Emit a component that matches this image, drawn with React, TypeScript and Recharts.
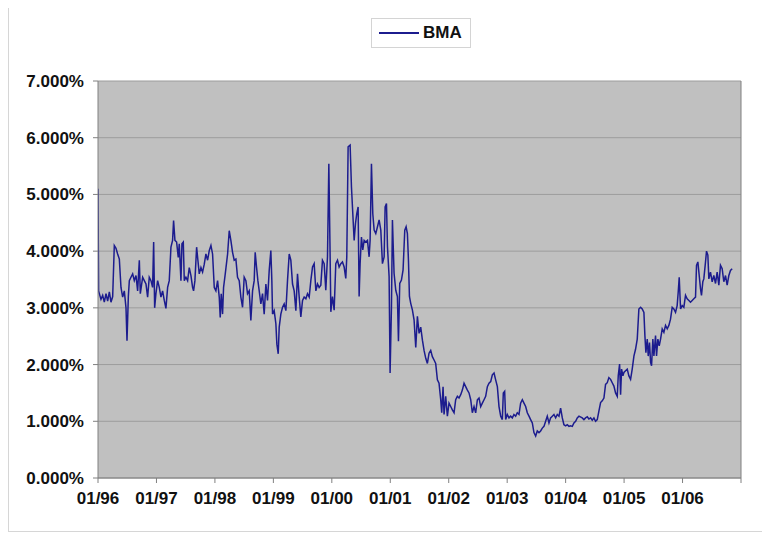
import { LineChart, Line, XAxis, YAxis, CartesianGrid, Legend, ReferenceLine } from 'recharts';

// BMA index readings: [decimal year, rate %]
const bma1996to1997: [number, number][] = [
  [1996.0, 5.1], [1996.01, 3.3], [1996.023, 3.25], [1996.051, 3.15], [1996.08, 3.22], [1996.108, 3.1],
  [1996.137, 3.25], [1996.165, 3.12], [1996.194, 3.28], [1996.222, 3.1], [1996.251, 3.2], [1996.279, 4.1],
  [1996.308, 4.05], [1996.336, 3.95], [1996.365, 3.86], [1996.393, 3.36], [1996.422, 3.19], [1996.45, 3.3],
  [1996.479, 3.0], [1996.496, 2.42], [1996.519, 3.2], [1996.536, 3.48], [1996.564, 3.54], [1996.593, 3.6],
  [1996.621, 3.48], [1996.65, 3.57], [1996.678, 3.3], [1996.707, 3.84], [1996.724, 3.25], [1996.764, 3.54],
  [1996.792, 3.48], [1996.821, 3.42], [1996.849, 3.19], [1996.877, 3.54], [1996.906, 3.48], [1996.934, 3.36],
  [1996.952, 4.16], [1996.969, 3.0], [1996.991, 3.25], [1997.02, 3.48], [1997.048, 3.36], [1997.077, 3.19],
  [1997.105, 3.3], [1997.134, 3.13], [1997.162, 2.99], [1997.191, 3.36], [1997.219, 3.48], [1997.248, 4.07],
  [1997.276, 4.19], [1997.293, 4.54], [1997.316, 4.19], [1997.345, 4.16], [1997.373, 3.89], [1997.39, 4.13],
  [1997.419, 3.48], [1997.436, 4.13], [1997.459, 4.16], [1997.476, 3.48], [1997.504, 3.54], [1997.533, 3.48],
  [1997.561, 3.71], [1997.59, 3.57], [1997.618, 3.36], [1997.635, 3.3], [1997.658, 3.48], [1997.687, 4.07],
  [1997.709, 3.84], [1997.732, 3.6], [1997.761, 3.71], [1997.789, 3.63], [1997.818, 3.77], [1997.846, 3.95],
  [1997.875, 3.84], [1997.903, 4.01], [1997.932, 4.1], [1997.96, 3.95], [1997.989, 3.36],
];

const bma1998to1999: [number, number][] = [
  [1998.017, 3.3], [1998.046, 3.48], [1998.074, 3.19], [1998.091, 2.83], [1998.108, 3.25], [1998.131, 2.89],
  [1998.148, 3.36], [1998.177, 3.6], [1998.217, 3.95], [1998.245, 4.36], [1998.273, 4.19], [1998.302, 3.98],
  [1998.33, 3.84], [1998.359, 3.86], [1998.387, 3.54], [1998.416, 3.48], [1998.444, 3.19], [1998.473, 3.01],
  [1998.501, 3.54], [1998.53, 3.48], [1998.558, 3.25], [1998.587, 3.3], [1998.615, 2.78], [1998.644, 3.3],
  [1998.672, 3.48], [1998.689, 3.98], [1998.712, 3.72], [1998.735, 3.48], [1998.758, 3.3], [1998.786, 3.07],
  [1998.815, 3.25], [1998.843, 2.89], [1998.872, 3.42], [1998.9, 3.13], [1998.929, 3.66], [1998.957, 4.01],
  [1998.974, 3.48], [1998.986, 2.89], [1999.014, 2.95], [1999.043, 2.72], [1999.06, 2.36], [1999.083, 2.19],
  [1999.1, 2.66], [1999.128, 2.89], [1999.157, 3.01], [1999.185, 3.07], [1999.214, 2.95], [1999.242, 3.48],
  [1999.271, 3.95], [1999.299, 3.84], [1999.328, 3.42], [1999.356, 3.3], [1999.385, 2.95], [1999.413, 3.6],
  [1999.442, 3.19], [1999.47, 2.84], [1999.499, 3.13], [1999.527, 3.19], [1999.556, 3.16], [1999.584, 3.25],
  [1999.613, 3.19], [1999.641, 3.48], [1999.67, 3.72], [1999.698, 3.78], [1999.727, 3.3], [1999.755, 3.42],
  [1999.783, 3.36], [1999.812, 3.4], [1999.84, 3.84], [1999.869, 3.78], [1999.897, 3.31], [1999.926, 3.9],
  [1999.949, 5.54], [1999.972, 3.84], [1999.983, 2.93],
];

const bma2000to2001: [number, number][] = [
  [2000.011, 3.2], [2000.04, 2.96], [2000.068, 3.78], [2000.097, 3.84], [2000.125, 3.72], [2000.154, 3.78],
  [2000.182, 3.81], [2000.211, 3.72], [2000.239, 3.52], [2000.256, 3.9], [2000.279, 5.84], [2000.313, 5.87],
  [2000.336, 5.13], [2000.359, 4.66], [2000.382, 4.19], [2000.405, 4.49], [2000.427, 4.66], [2000.45, 4.78],
  [2000.467, 3.2], [2000.484, 3.78], [2000.507, 4.25], [2000.53, 4.02], [2000.553, 4.19], [2000.581, 4.16],
  [2000.61, 4.19], [2000.638, 3.9], [2000.655, 4.19], [2000.678, 5.54], [2000.701, 4.66], [2000.724, 4.37],
  [2000.752, 4.31], [2000.781, 4.43], [2000.809, 4.55], [2000.838, 4.37], [2000.866, 3.78], [2000.895, 3.9],
  [2000.912, 4.78], [2000.935, 4.84], [2000.952, 4.08], [2000.98, 3.55], [2000.997, 1.85], [2001.02, 3.0],
  [2001.037, 4.55], [2001.065, 3.61], [2001.094, 3.31], [2001.122, 3.2], [2001.14, 2.41], [2001.162, 3.43],
  [2001.191, 3.49], [2001.219, 3.67], [2001.248, 4.37], [2001.271, 4.43], [2001.293, 4.31], [2001.311, 3.84],
  [2001.328, 3.2], [2001.35, 3.08], [2001.379, 2.96], [2001.407, 2.79], [2001.436, 2.3], [2001.464, 2.85],
  [2001.493, 2.55], [2001.521, 2.66], [2001.55, 2.43], [2001.578, 2.25], [2001.607, 2.11], [2001.635, 2.02],
  [2001.663, 2.2], [2001.692, 2.25], [2001.72, 2.14], [2001.749, 2.08], [2001.777, 2.02], [2001.806, 1.73],
  [2001.834, 1.67], [2001.863, 1.38], [2001.88, 1.15], [2001.903, 1.61], [2001.92, 1.12], [2001.948, 1.44],
  [2001.977, 1.09],
];

const bma2002to2003: [number, number][] = [
  [2002.005, 1.32], [2002.034, 1.26], [2002.062, 1.2], [2002.091, 1.15], [2002.119, 1.38], [2002.148, 1.44],
  [2002.176, 1.41], [2002.205, 1.47], [2002.233, 1.55], [2002.262, 1.67], [2002.29, 1.61], [2002.319, 1.55],
  [2002.347, 1.5], [2002.376, 1.38], [2002.404, 1.15], [2002.433, 1.26], [2002.461, 1.15], [2002.49, 1.38],
  [2002.518, 1.41], [2002.547, 1.26], [2002.575, 1.32], [2002.604, 1.38], [2002.632, 1.44], [2002.661, 1.61],
  [2002.689, 1.67], [2002.718, 1.7], [2002.746, 1.82], [2002.775, 1.85], [2002.803, 1.73], [2002.832, 1.61],
  [2002.86, 1.26], [2002.889, 1.09], [2002.917, 1.03], [2002.934, 1.5], [2002.957, 1.53], [2002.974, 1.03],
  [2003.002, 1.12], [2003.031, 1.06], [2003.059, 1.09], [2003.088, 1.06], [2003.116, 1.12], [2003.145, 1.09],
  [2003.173, 1.15], [2003.202, 1.12], [2003.23, 1.32], [2003.259, 1.38], [2003.287, 1.32], [2003.316, 1.26],
  [2003.344, 1.15], [2003.373, 1.09], [2003.401, 1.03], [2003.43, 0.97], [2003.458, 0.8], [2003.487, 0.74],
  [2003.515, 0.83], [2003.544, 0.8], [2003.572, 0.83], [2003.601, 0.88], [2003.629, 0.91], [2003.658, 1.0],
  [2003.686, 1.09], [2003.715, 0.97], [2003.743, 1.06], [2003.772, 1.09], [2003.8, 1.12], [2003.829, 1.06],
  [2003.857, 1.12], [2003.886, 1.09], [2003.914, 1.23], [2003.943, 1.06], [2003.971, 0.94],
];

const bma2004to2006: [number, number][] = [
  [2004.0, 0.92], [2004.028, 0.94], [2004.057, 0.91], [2004.085, 0.92], [2004.114, 0.91], [2004.142, 0.97],
  [2004.171, 1.0], [2004.199, 1.06], [2004.228, 1.09], [2004.284, 1.06], [2004.313, 1.03], [2004.341, 1.06],
  [2004.37, 1.08], [2004.398, 1.04], [2004.427, 1.06], [2004.455, 1.02], [2004.484, 1.06], [2004.512, 1.0],
  [2004.541, 1.03], [2004.569, 1.18], [2004.598, 1.33], [2004.626, 1.36], [2004.655, 1.41], [2004.683, 1.65],
  [2004.712, 1.68], [2004.74, 1.77], [2004.769, 1.74], [2004.797, 1.68], [2004.826, 1.62], [2004.854, 1.5],
  [2004.883, 1.44], [2004.9, 1.8], [2004.923, 2.01], [2004.94, 1.47], [2004.957, 1.92], [2004.98, 1.8],
  [2004.997, 1.86], [2005.025, 1.89], [2005.054, 1.92], [2005.082, 1.8], [2005.111, 1.74], [2005.139, 1.92],
  [2005.168, 2.15], [2005.196, 2.27], [2005.225, 2.45], [2005.253, 2.98], [2005.282, 3.01], [2005.31, 2.98],
  [2005.339, 2.92], [2005.356, 2.51], [2005.373, 2.21], [2005.396, 2.45], [2005.413, 2.15], [2005.435, 2.39],
  [2005.453, 2.04], [2005.47, 1.98], [2005.492, 2.45], [2005.51, 2.15], [2005.538, 2.51], [2005.555, 2.15],
  [2005.578, 2.45], [2005.601, 2.33], [2005.624, 2.45], [2005.652, 2.63], [2005.681, 2.57], [2005.709, 2.69],
  [2005.738, 2.63], [2005.766, 2.69], [2005.794, 2.8], [2005.823, 3.01], [2005.851, 2.98], [2005.88, 2.92],
  [2005.908, 3.04], [2005.926, 3.28], [2005.943, 3.54], [2005.966, 2.98], [2005.994, 3.04], [2006.022, 3.01],
  [2006.051, 3.22], [2006.079, 3.16], [2006.108, 3.13], [2006.136, 3.1], [2006.165, 3.13], [2006.193, 3.16],
  [2006.222, 3.19], [2006.239, 3.75], [2006.262, 3.81], [2006.285, 3.57], [2006.307, 3.34], [2006.324, 3.22],
  [2006.347, 3.46], [2006.364, 3.51], [2006.393, 3.81], [2006.41, 4.0], [2006.433, 3.93], [2006.45, 3.51],
  [2006.478, 3.63], [2006.507, 3.46], [2006.535, 3.57], [2006.564, 3.43], [2006.592, 3.63], [2006.621, 3.4],
  [2006.649, 3.75], [2006.678, 3.69], [2006.706, 3.46], [2006.735, 3.57], [2006.763, 3.4], [2006.792, 3.57],
  [2006.82, 3.66], [2006.849, 3.69],
];

const yearTicks = [1996, 1997, 1998, 1999, 2000, 2001, 2002, 2003, 2004, 2005, 2006, 2007];
const rateTicks = [0, 1, 2, 3, 4, 5, 6, 7];

const chartData = [...bma1996to1997, ...bma1998to1999, ...bma2000to2001, ...bma2002to2003, ...bma2004to2006]
  .map(([t, v]) => ({ t, bma: v }));

const LINE_COLOR = '#1c1c8e';
const FONT = '"Liberation Sans", Arial, sans-serif';
const TICK_STYLE = { fill: '#111', fontFamily: FONT, fontWeight: 'bold', fontSize: 17 };

const formatYear = (t: number) => (t === 2007 ? '' : '01/' + String(t).slice(2));

function LegendBox() {
  return (
    <div
      style={{
        display: 'flex',
        alignItems: 'center',
        height: 30,
        width: 100,
        border: '1px solid #d4d4d4',
        boxSizing: 'border-box',
        fontFamily: FONT,
        fontWeight: 'bold',
        fontSize: 17,
        color: '#111'
      }}
    >
      <svg width={44} height={10} style={{ marginLeft: 7 }}>
        <line x1={0} y1={5} x2={40} y2={5} stroke={LINE_COLOR} strokeWidth={2} />
      </svg>
      <span>BMA</span>
    </div>
  );
}

export default function App() {
  return (
    <div style={{ width: 762, height: 523, borderLeft: '1px solid #d6d6d6', borderBottom: '1px solid #d6d6d6', background: '#fff' }}>
      <LineChart
        width={753}
        height={522}
        data={chartData}
        margin={{ top: 43, right: 21, left: 8, bottom: 22 }}
      >
        <CartesianGrid vertical={false} fill="#c0c0c0" stroke="#9c9c9c" strokeWidth={1} />
        <XAxis
          dataKey="t"
          type="number"
          domain={[1996, 2007]}
          ticks={yearTicks}
          tickFormatter={formatYear}
          interval={0}
          height={30}
          tickSize={5}
          tickMargin={9}
          stroke="#808080"
          tick={TICK_STYLE}
          allowDataOverflow
        />
        <YAxis
          domain={[0, 7]}
          ticks={rateTicks}
          tickFormatter={(v: number) => v.toFixed(3) + '%'}
          width={81}
          tickSize={5}
          tickMargin={9}
          stroke="#808080"
          tick={TICK_STYLE}
        />
        <ReferenceLine x={2007} stroke="#808080" />
        <Legend
          verticalAlign="top"
          content={() => <LegendBox />}
          wrapperStyle={{ top: 10, left: 362, width: 100 }}
        />
        <Line
          type="linear"
          dataKey="bma"
          stroke={LINE_COLOR}
          strokeWidth={1.5}
          dot={false}
          isAnimationActive={false}
        />
      </LineChart>
    </div>
  );
}
